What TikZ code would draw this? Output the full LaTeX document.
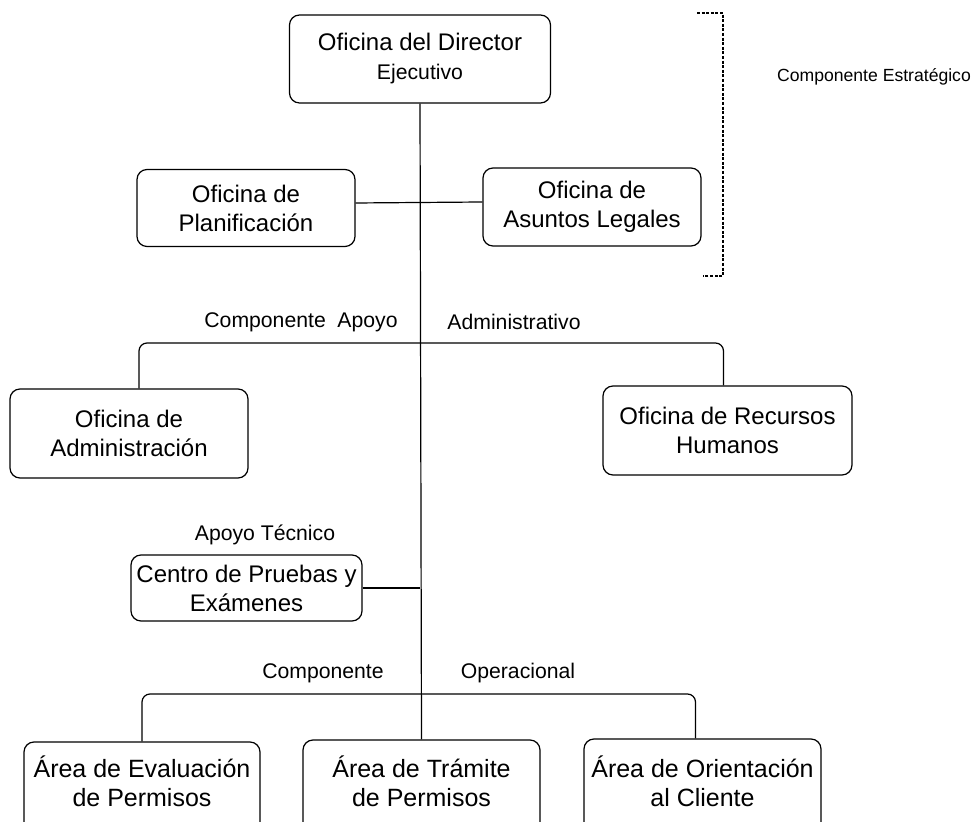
\documentclass[tikz,border=0pt]{standalone}
\usepackage{fontspec}
\setmainfont{Liberation Sans}
\begin{document}
\begin{tikzpicture}[x=0.5pt,y=-0.5pt,
  box/.style={draw, rounded corners=5pt, line width=0.6pt, align=center, inner sep=0pt, font=\fontsize{12}{14.5}\selectfont},
  btxt/.style={align=center, inner sep=0pt, font=\fontsize{12.5}{14.5}\selectfont},
  lbl/.style={font=\fontsize{10.6}{12}\selectfont, inner sep=0pt},
  link/.style={line width=0.6pt}]
\useasboundingbox (0,0) rectangle (975,822);
\clip (0,0) rectangle (975,822);

% strategic component
\node[box, minimum width=130.5pt, minimum height=44pt] (dir) at (420,59)
  {\fontsize{12}{15}\selectfont Oficina del Director\\{\fontsize{10.6}{12}\selectfont Ejecutivo}};
\node[box, minimum width=109pt, minimum height=38.5pt] (plan) at (246,208) {Oficina de\\Planificación};
\node[box, minimum width=109pt, minimum height=39pt] (leg) at (592,207) {Oficina de\\Asuntos Legales};

% support component
\node[box, minimum width=119pt, minimum height=44.5pt] (adm) at (129,433.5) {Oficina de\\Administración};
\node[box, minimum width=124.5pt, minimum height=44.5pt] (rrhh) at (727.5,430.5) {Oficina de Recursos\\Humanos};
\node[box, minimum width=115.5pt, minimum height=33pt] (cen) at (246.5,588) {Centro de Pruebas y\\Exámenes};

% operational component
\node[box, minimum width=118pt, minimum height=59pt] (eval) at (142,801) {};
\node[box, minimum width=118.5pt, minimum height=60pt] (tram) at (421.5,800) {};
\node[box, minimum width=118.5pt, minimum height=60.5pt] (ori) at (702.5,799.5) {};
\node[btxt] (evalt) at (142,781.5) {Área de Evaluación\\de Permisos};
\node[btxt] (tramt) at (421.5,781.5) {Área de Trámite\\de Permisos};
\node[btxt] (orit) at (702.5,781.5) {Área de Orientación\\al Cliente};

% labels
\node[lbl] (lapoyo) at (301,322) {Componente\hspace{0.55em}Apoyo};
\node[lbl] (ladm) at (514,322) {Administrativo};
\node[lbl] (ltec) at (265,535) {Apoyo Técnico};
\node[lbl] (lcomp) at (323,673) {Componente};
\node[lbl] (lop) at (518,673) {Operacional};
\node[inner sep=0pt, font=\fontsize{8.8}{10}\selectfont] (lest) at (874,77) {Componente Estratégico};

% connectors
\coordinate (ja) at (420,343);
\coordinate (jo) at (420,694);
\draw[link] (dir.south) -- (tram.north);
\draw[link] ([yshift=2.5pt]plan.east) -- ([yshift=2.5pt]leg.west);
\draw[link, rounded corners=4pt] ([xshift=5pt]adm.north) |- (ja) -| ([xshift=-2pt]rrhh.north);
\draw[link] (cen.east) -- (cen.east -| dir.south);
\draw[link, rounded corners=4pt] (eval.north) |- (jo) -| ([xshift=-3.5pt]ori.north);

% strategic bracket
\coordinate (bt1) at (697,13);
\coordinate (bt2) at (723,13);
\coordinate (bb2) at (723,276);
\coordinate (bb1) at (703,276);
\draw[line width=0.8pt, dash pattern=on 1.5pt off 0.8pt] (bt1) -- (bt2) -- (bb2) -- (bb1);
\end{tikzpicture}
\end{document}
